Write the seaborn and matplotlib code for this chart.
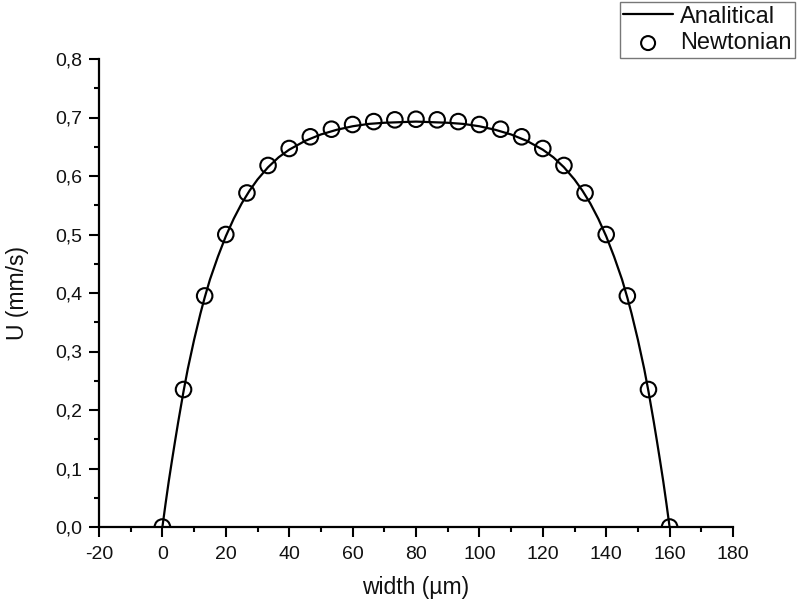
import numpy as np
import pandas as pd
import matplotlib
matplotlib.use("Agg")
import matplotlib.pyplot as plt
import seaborn as sns
from matplotlib.ticker import MultipleLocator, FuncFormatter

# Analytical curve
curve_x = [0, 1, 2, 3, 4, 5, 6.67, 8, 10, 12, 13.33, 15, 17.5, 20, 22.5, 25, 27.5, 30,
           33.33, 36.67, 40, 45, 50, 55, 60, 65, 70, 75, 80,
           85, 90, 95, 100, 105, 110, 115, 120, 123.33, 126.67, 130, 132.5, 135,
           137.5, 140, 142.5, 145, 146.67, 148, 150, 152, 153.33, 155, 156, 157, 158, 159, 160]
curve_y = [0.0, 0.04, 0.078, 0.113, 0.147, 0.18, 0.232, 0.27, 0.32, 0.365, 0.392, 0.423,
           0.462, 0.497, 0.527, 0.553, 0.575, 0.594, 0.615, 0.632, 0.645, 0.660, 0.671,
           0.679, 0.685, 0.689, 0.691, 0.692, 0.693,
           0.692, 0.691, 0.689, 0.685, 0.679, 0.671, 0.660, 0.645, 0.632, 0.615, 0.594,
           0.575, 0.553, 0.527, 0.497, 0.462, 0.423, 0.392, 0.365, 0.32, 0.27, 0.232,
           0.18, 0.147, 0.113, 0.078, 0.04, 0.0]

# Newtonian simulation points
newt_x = [0, 6.67, 13.33, 20, 26.67, 33.33, 40, 46.67, 53.33, 60, 66.67, 73.33, 80,
          86.67, 93.33, 100, 106.67, 113.33, 120, 126.67, 133.33, 140, 146.67, 153.33, 160]
newt_y = [0.0, 0.235, 0.395, 0.500, 0.571, 0.618, 0.647, 0.667, 0.680, 0.688, 0.693,
          0.696, 0.697, 0.696, 0.693, 0.688, 0.680, 0.667, 0.647, 0.618, 0.571, 0.500,
          0.395, 0.235, 0.0]

x_ticks = [-20, 0, 20, 40, 60, 80, 100, 120, 140, 160, 180]
y_ticks = [0.0, 0.1, 0.2, 0.3, 0.4, 0.5, 0.6, 0.7, 0.8]

sns.set_theme(style="ticks")
plt.rcParams['font.family'] = ['Liberation Sans', 'DejaVu Sans']
plt.rcParams['axes.unicode_minus'] = False

fig = plt.figure(figsize=(8.0, 6.02), dpi=100)
ax = fig.add_axes([99/800, 1 - 527/602, (733 - 99)/800, (527 - 59)/602])

df_curve = pd.DataFrame({"x": curve_x, "y": curve_y})
df_pts = pd.DataFrame({"x": newt_x, "y": newt_y})

sns.lineplot(data=df_curve, x="x", y="y", ax=ax, color="black", linewidth=1.6,
             label="Analitical", sort=False, zorder=2)
sns.scatterplot(data=df_pts, x="x", y="y", ax=ax, marker="o", s=125,
                facecolor="none", edgecolor="black", linewidth=1.5,
                label="Newtonian", zorder=3)

ax.set_xlim(-20, 180)
ax.set_ylim(0, 0.8)
ax.set_xticks(x_ticks)
ax.set_yticks(y_ticks)
ax.xaxis.set_minor_locator(MultipleLocator(10))
ax.yaxis.set_minor_locator(MultipleLocator(0.05))
ax.yaxis.set_major_formatter(FuncFormatter(lambda v, p: f"{v:.1f}".replace(".", ",")))

for s in ["top", "right"]:
    ax.spines[s].set_visible(False)
for s in ["left", "bottom"]:
    ax.spines[s].set_linewidth(1.6)
    ax.spines[s].set_color("black")

ax.tick_params(axis="both", which="major", direction="out", length=7, width=1.5,
               labelsize=14, color="black", labelcolor="#111111")
ax.tick_params(axis="x", which="major", pad=7)
ax.tick_params(axis="y", which="major", pad=5)
ax.tick_params(axis="both", which="minor", direction="out", length=3.5, width=1.5,
               color="black")

ax.set_xlabel("width (µm)", fontsize=16.5, color="#111111", labelpad=9)
ax.set_ylabel("U (mm/s)", fontsize=16.5, color="#111111")
ax.yaxis.set_label_coords(-0.11, 0.5)

ax.legend(loc="upper right", bbox_to_anchor=(795/800, 1 - 2/602),
          bbox_transform=fig.transFigure, borderaxespad=0, frameon=True,
          fancybox=False, edgecolor="#555555", fontsize=17, handlelength=2.1,
          handletextpad=0.3, borderpad=0.15, labelspacing=0.2, markerscale=0.9)
leg = ax.get_legend()
leg.get_frame().set_linewidth(1.0)
for t in leg.get_texts():
    t.set_color("#111111")

fig.savefig("out.png", dpi=100, facecolor="white")
